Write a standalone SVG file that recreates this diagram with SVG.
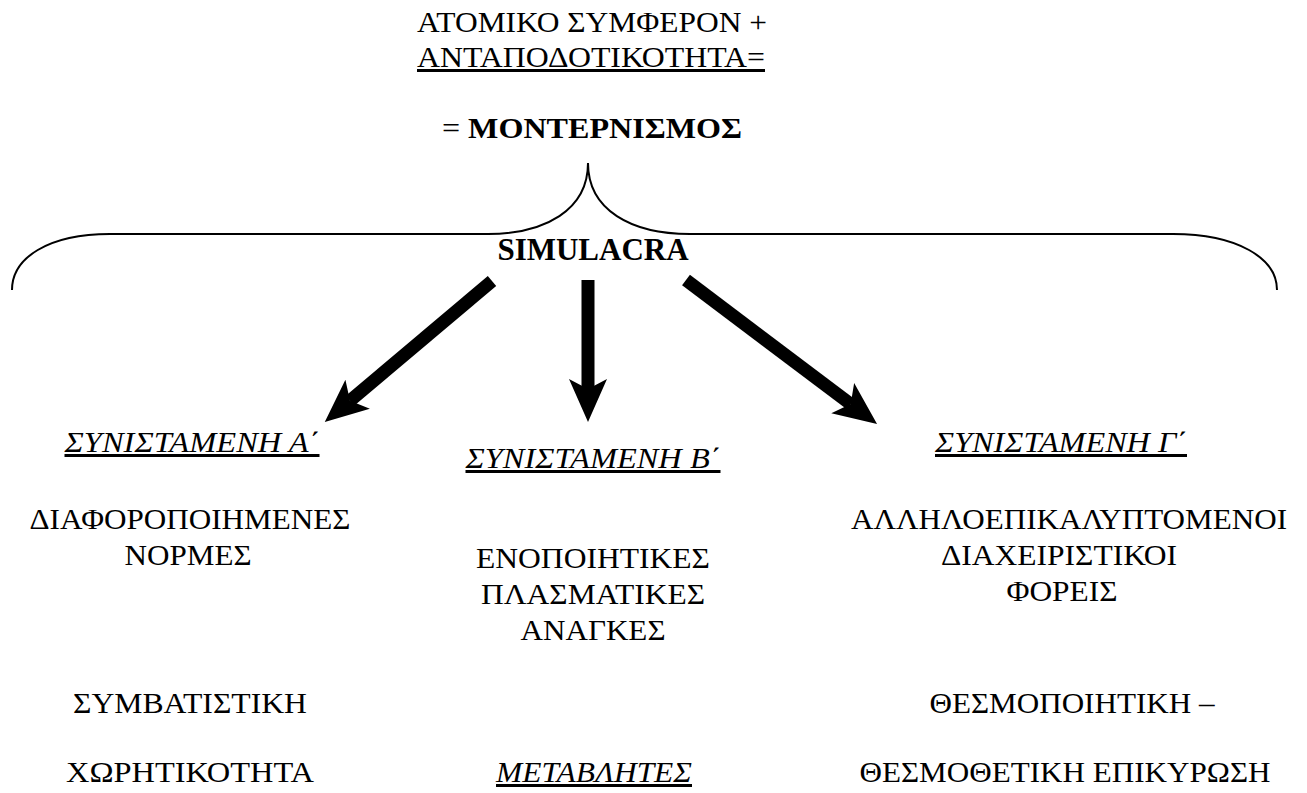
<svg xmlns="http://www.w3.org/2000/svg" width="1307" height="793" viewBox="0 0 1307 793">
  <style>
    text { font-family: "Liberation Serif", "Noto Sans", serif; font-size: 30px; fill: #000; text-anchor: middle; }
    .lat { font-family: "Liberation Serif", "Times New Roman", serif; font-size: 31px; }
    .b { font-weight: bold; }
    .iu { font-style: italic; text-decoration: underline; }
    .u { text-decoration: underline; }
    .brace { fill: none; stroke: #000; stroke-width: 2; }
    .arrow { fill: none; stroke: #000; stroke-width: 13; stroke-linecap: butt; marker-end: url(#head); }
  </style>
  <defs>
    <marker id="head" markerUnits="userSpaceOnUse" viewBox="-12 -21 48 42" markerWidth="48" markerHeight="42" refX="0" refY="0" orient="auto" overflow="visible">
      <path d="M33,0 L-10,-19 L0,0 L-10,19 Z" fill="#000"/>
    </marker>
  </defs>
  <rect width="1307" height="793" fill="#fff"/>

  <g id="title">
    <text x="592" y="32" textLength="350" lengthAdjust="spacingAndGlyphs">ΑΤΟΜΙΚΟ ΣΥΜΦΕΡΟΝ +</text>
    <text x="591" y="67" class="u" textLength="348" lengthAdjust="spacingAndGlyphs">ΑΝΤΑΠΟΔΟΤΙΚΟΤΗΤΑ=</text>
    <text x="592" y="138" textLength="300" lengthAdjust="spacingAndGlyphs">= <tspan class="b">ΜΟΝΤΕΡΝΙΣΜΟΣ</tspan></text>
  </g>

  <g id="brace">
    <path class="brace" d="M12,290 C12,258 48,234 110,234 L488,234 C545,234 588,210 588,163 C588,210 631,234 690,234 L1173,234 C1237,234 1277,258 1277,290"/>
  </g>

  <g id="simulacra">
    <text x="593" y="260" class="lat b">SIMULACRA</text>
  </g>

  <g id="connectors">
    <line class="arrow" x1="492" y1="281" x2="350" y2="400.7"/>
    <line class="arrow" x1="588" y1="280" x2="588" y2="389"/>
    <line class="arrow" x1="686" y1="280" x2="850.7" y2="404.1"/>
  </g>

  <g id="component-a">
    <text x="192" y="452" class="iu" textLength="255" lengthAdjust="spacingAndGlyphs">ΣΥΝΙΣΤΑΜΕΝΗ Α΄</text>
    <text x="190" y="529" textLength="321" lengthAdjust="spacingAndGlyphs">ΔΙΑΦΟΡΟΠΟΙΗΜΕΝΕΣ</text>
    <text x="188" y="565" textLength="127" lengthAdjust="spacingAndGlyphs">ΝΟΡΜΕΣ</text>
  </g>

  <g id="component-b">
    <text x="593" y="468" class="iu" textLength="255" lengthAdjust="spacingAndGlyphs">ΣΥΝΙΣΤΑΜΕΝΗ Β΄</text>
    <text x="593" y="568" textLength="234" lengthAdjust="spacingAndGlyphs">ΕΝΟΠΟΙΗΤΙΚΕΣ</text>
    <text x="593" y="604" textLength="224" lengthAdjust="spacingAndGlyphs">ΠΛΑΣΜΑΤΙΚΕΣ</text>
    <text x="593" y="640" textLength="145" lengthAdjust="spacingAndGlyphs">ΑΝΑΓΚΕΣ</text>
  </g>

  <g id="component-c">
    <text x="1061" y="452" class="iu" textLength="252" lengthAdjust="spacingAndGlyphs">ΣΥΝΙΣΤΑΜΕΝΗ Γ΄</text>
    <text x="1069" y="529" textLength="436" lengthAdjust="spacingAndGlyphs">ΑΛΛΗΛΟΕΠΙΚΑΛΥΠΤΟΜΕΝΟΙ</text>
    <text x="1059" y="565" textLength="236" lengthAdjust="spacingAndGlyphs">ΔΙΑΧΕΙΡΙΣΤΙΚΟΙ</text>
    <text x="1062" y="601" textLength="111" lengthAdjust="spacingAndGlyphs">ΦΟΡΕΙΣ</text>
  </g>

  <g id="variable-a">
    <text x="190" y="713" textLength="234" lengthAdjust="spacingAndGlyphs">ΣΥΜΒΑΤΙΣΤΙΚΗ</text>
    <text x="190" y="782" textLength="248" lengthAdjust="spacingAndGlyphs">ΧΩΡΗΤΙΚΟΤΗΤΑ</text>
  </g>

  <g id="variables">
    <text x="594" y="782" class="iu" textLength="196" lengthAdjust="spacingAndGlyphs">ΜΕΤΑΒΛΗΤΕΣ</text>
  </g>

  <g id="variable-c">
    <text x="1072" y="713" textLength="285" lengthAdjust="spacingAndGlyphs">ΘΕΣΜΟΠΟΙΗΤΙΚΗ –</text>
    <text x="1065" y="782" textLength="411" lengthAdjust="spacingAndGlyphs">ΘΕΣΜΟΘΕΤΙΚΗ ΕΠΙΚΥΡΩΣΗ</text>
  </g>
</svg>
